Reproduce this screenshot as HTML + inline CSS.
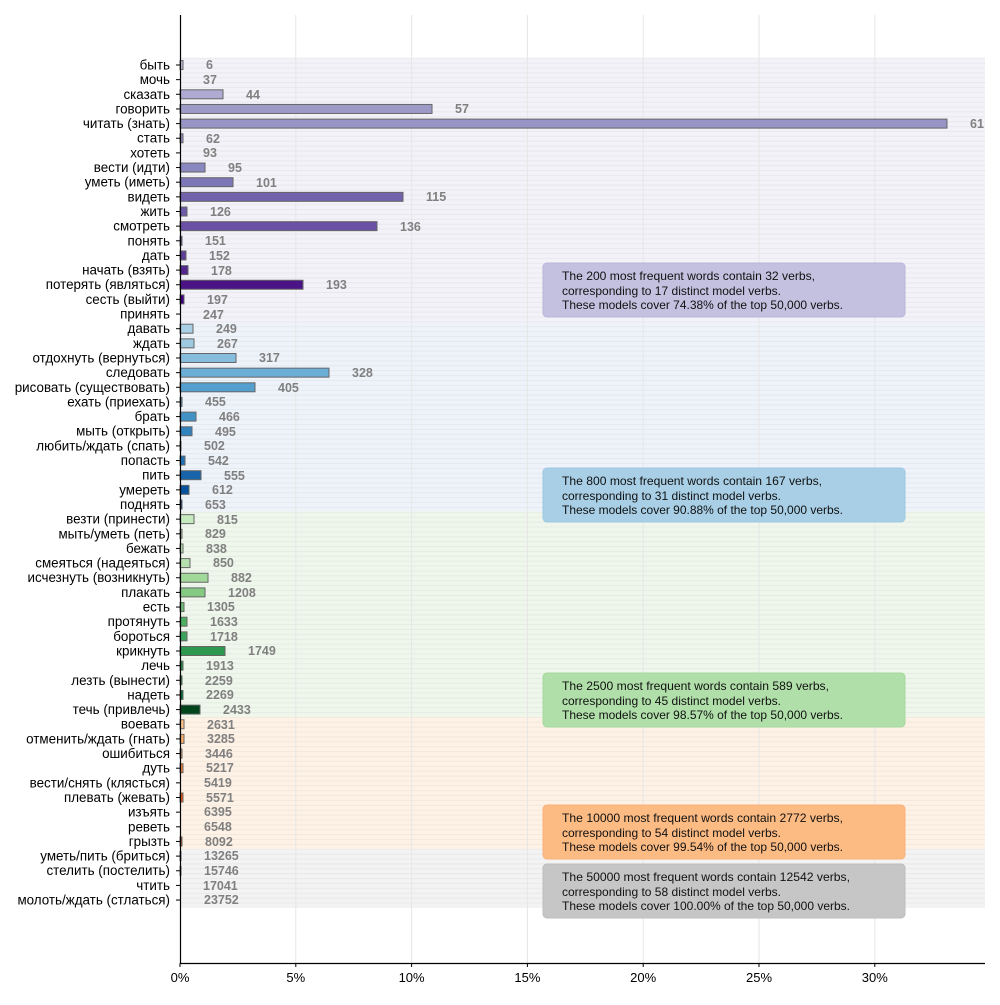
<!DOCTYPE html>
<html><head><meta charset="utf-8"><style>
html,body{margin:0;padding:0;background:#fff;}
svg text{font-family:"Liberation Sans","DejaVu Sans",sans-serif;}
.t{font-size:13.4px;fill:#000;text-anchor:end;}
.n{font-size:12.5px;font-weight:bold;fill:#808080;}
.b{font-size:12px;fill:#111;}
.x{font-size:13px;fill:#000;text-anchor:middle;}
rect.bar{stroke:#666;stroke-width:1;}
</style></head><body>
<svg width="1000" height="1000" xmlns="http://www.w3.org/2000/svg">
<defs>
<pattern id="hl" patternUnits="userSpaceOnUse" width="10" height="4.883" y="57.7">
<rect x="0" y="0" width="10" height="1" fill="rgba(0,0,0,0.045)"/>
</pattern>
</defs>
<rect x="180" y="57.7" width="805" height="264.7" fill="#f3f2f8"/>
<rect x="180" y="322.4" width="805" height="189.3" fill="#eef3fa"/>
<rect x="180" y="511.7" width="805" height="205.1" fill="#eff7ec"/>
<rect x="180" y="716.8" width="805" height="132.4" fill="#fef2e6"/>
<rect x="180" y="849.2" width="805" height="58.6" fill="#f3f3f3"/>
<rect x="180" y="57.7" width="805" height="850.1" fill="url(#hl)"/>
<g stroke="#e6e6e6" stroke-width="1">
<line x1="295.8" y1="15" x2="295.8" y2="963"/><line x1="411.6" y1="15" x2="411.6" y2="963"/><line x1="527.4" y1="15" x2="527.4" y2="963"/><line x1="643.2" y1="15" x2="643.2" y2="963"/><line x1="759" y1="15" x2="759" y2="963"/><line x1="874.8" y1="15" x2="874.8" y2="963"/>
</g>
<!-- bars -->
<rect class="bar" x="180" y="60.5" width="3" height="9" fill="#bcbddc"/>
<rect class="bar" x="180" y="89.8" width="43" height="9" fill="#aeaad2"/>
<rect class="bar" x="180" y="104.45" width="252" height="9" fill="#9e9ac8"/>
<rect class="bar" x="180" y="119.1" width="767" height="9" fill="#9894c5"/>
<rect class="bar" x="180" y="133.75" width="3" height="9" fill="#928ec2"/>
<rect class="bar" x="180" y="163.05" width="25" height="9" fill="#8a86bf"/>
<rect class="bar" x="180" y="177.7" width="53" height="9" fill="#7d77b8"/>
<rect class="bar" x="180" y="192.35" width="223" height="9" fill="#7262ab"/>
<rect class="bar" x="180" y="207" width="7" height="9" fill="#6e5aa7"/>
<rect class="bar" x="180" y="221.65" width="197" height="9" fill="#6a51a3"/>
<rect class="bar" x="180" y="236.3" width="2" height="9" fill="#63489d"/>
<rect class="bar" x="180" y="250.95" width="6" height="9" fill="#5d3f98"/>
<rect class="bar" x="180" y="265.6" width="8" height="9" fill="#54278f"/>
<rect class="bar" x="180" y="280.25" width="123" height="9" fill="#4a1486"/>
<rect class="bar" x="180" y="294.9" width="4" height="9" fill="#3f007d"/>
<rect class="bar" x="180" y="324.2" width="13" height="9" fill="#a9cfe5"/>
<rect class="bar" x="180" y="338.85" width="14" height="9" fill="#9ecae1"/>
<rect class="bar" x="180" y="353.5" width="56" height="9" fill="#86bcdc"/>
<rect class="bar" x="180" y="368.15" width="149" height="9" fill="#6baed6"/>
<rect class="bar" x="180" y="382.8" width="75" height="9" fill="#549fcd"/>
<rect class="bar" x="180" y="397.45" width="2" height="9" fill="#4a98c9"/>
<rect class="bar" x="180" y="412.1" width="16" height="9" fill="#4292c6"/>
<rect class="bar" x="180" y="426.75" width="12" height="9" fill="#3282bd"/>
<rect class="bar" x="180" y="441.4" width="1" height="9" fill="#2a7ab9"/>
<rect class="bar" x="180" y="456.05" width="5" height="9" fill="#2171b5"/>
<rect class="bar" x="180" y="470.7" width="21" height="9" fill="#1764ab"/>
<rect class="bar" x="180" y="485.35" width="9" height="9" fill="#08519c"/>
<rect class="bar" x="180" y="500" width="2" height="9" fill="#084594"/>
<rect class="bar" x="180" y="514.65" width="14" height="9" fill="#c7e9c0"/>
<rect class="bar" x="180" y="529.3" width="2" height="9" fill="#c0e6b9"/>
<rect class="bar" x="180" y="543.95" width="3" height="9" fill="#bae3b3"/>
<rect class="bar" x="180" y="558.6" width="10" height="9" fill="#b5e0ad"/>
<rect class="bar" x="180" y="573.25" width="28" height="9" fill="#a1d99b"/>
<rect class="bar" x="180" y="587.9" width="25" height="9" fill="#84ca83"/>
<rect class="bar" x="180" y="602.55" width="4" height="9" fill="#6bbc72"/>
<rect class="bar" x="180" y="617.2" width="7" height="9" fill="#4dad62"/>
<rect class="bar" x="180" y="631.85" width="7" height="9" fill="#3da35a"/>
<rect class="bar" x="180" y="646.5" width="45" height="9" fill="#2f984f"/>
<rect class="bar" x="180" y="661.15" width="3" height="9" fill="#238b45"/>
<rect class="bar" x="180" y="675.8" width="2" height="9" fill="#157f3b"/>
<rect class="bar" x="180" y="690.45" width="3" height="9" fill="#006d2c"/>
<rect class="bar" x="180" y="705.1" width="20" height="9" fill="#00441b"/>
<rect class="bar" x="180" y="719.75" width="4" height="9" fill="#fdc28c"/>
<rect class="bar" x="180" y="734.4" width="4" height="9" fill="#fdae6b"/>
<rect class="bar" x="180" y="749.05" width="2" height="9" fill="#fd9a51"/>
<rect class="bar" x="180" y="763.7" width="3" height="9" fill="#f3803a"/>
<rect class="bar" x="180" y="793" width="3" height="9" fill="#e6550d"/>
<rect class="bar" x="180" y="836.95" width="2" height="9" fill="#c44103"/>
<rect class="bar" x="180" y="851.6" width="1" height="9" fill="#bdbdbd"/>
<rect class="bar" x="180" y="866.25" width="1" height="9" fill="#969696"/>
<!-- number labels -->
<text class="n" x="206" y="69">6</text>
<text class="n" x="203" y="84">37</text>
<text class="n" x="246" y="99">44</text>
<text class="n" x="455" y="113">57</text>
<text class="n" x="970" y="128">61</text>
<text class="n" x="206" y="143">62</text>
<text class="n" x="203" y="157">93</text>
<text class="n" x="228" y="172">95</text>
<text class="n" x="256" y="187">101</text>
<text class="n" x="426" y="201">115</text>
<text class="n" x="210" y="216">126</text>
<text class="n" x="400" y="231">136</text>
<text class="n" x="205" y="245">151</text>
<text class="n" x="209" y="260">152</text>
<text class="n" x="211" y="275">178</text>
<text class="n" x="326" y="289">193</text>
<text class="n" x="207" y="304">197</text>
<text class="n" x="203" y="319">247</text>
<text class="n" x="216" y="333">249</text>
<text class="n" x="217" y="348">267</text>
<text class="n" x="259" y="362">317</text>
<text class="n" x="352" y="377">328</text>
<text class="n" x="278" y="392">405</text>
<text class="n" x="205" y="406">455</text>
<text class="n" x="219" y="421">466</text>
<text class="n" x="215" y="436">495</text>
<text class="n" x="204" y="450">502</text>
<text class="n" x="208" y="465">542</text>
<text class="n" x="224" y="480">555</text>
<text class="n" x="212" y="494">612</text>
<text class="n" x="205" y="509">653</text>
<text class="n" x="217" y="524">815</text>
<text class="n" x="205" y="538">829</text>
<text class="n" x="206" y="553">838</text>
<text class="n" x="213" y="567">850</text>
<text class="n" x="231" y="582">882</text>
<text class="n" x="228" y="597">1208</text>
<text class="n" x="207" y="611">1305</text>
<text class="n" x="210" y="626">1633</text>
<text class="n" x="210" y="641">1718</text>
<text class="n" x="248" y="655">1749</text>
<text class="n" x="206" y="670">1913</text>
<text class="n" x="205" y="685">2259</text>
<text class="n" x="206" y="699">2269</text>
<text class="n" x="223" y="714">2433</text>
<text class="n" x="207" y="729">2631</text>
<text class="n" x="207" y="743">3285</text>
<text class="n" x="205" y="758">3446</text>
<text class="n" x="206" y="772">5217</text>
<text class="n" x="204" y="787">5419</text>
<text class="n" x="206" y="802">5571</text>
<text class="n" x="204" y="816">6395</text>
<text class="n" x="204" y="831">6548</text>
<text class="n" x="205" y="846">8092</text>
<text class="n" x="204" y="860">13265</text>
<text class="n" x="204" y="875">15746</text>
<text class="n" x="203" y="890">17041</text>
<text class="n" x="204" y="904">23752</text>
<!-- tick labels -->
<g stroke="#000" stroke-width="1">
<line x1="176" y1="65" x2="180" y2="65"/><line x1="176" y1="79.65" x2="180" y2="79.65"/><line x1="176" y1="94.3" x2="180" y2="94.3"/><line x1="176" y1="108.95" x2="180" y2="108.95"/><line x1="176" y1="123.6" x2="180" y2="123.6"/><line x1="176" y1="138.25" x2="180" y2="138.25"/><line x1="176" y1="152.9" x2="180" y2="152.9"/><line x1="176" y1="167.55" x2="180" y2="167.55"/><line x1="176" y1="182.2" x2="180" y2="182.2"/><line x1="176" y1="196.85" x2="180" y2="196.85"/><line x1="176" y1="211.5" x2="180" y2="211.5"/><line x1="176" y1="226.15" x2="180" y2="226.15"/><line x1="176" y1="240.8" x2="180" y2="240.8"/><line x1="176" y1="255.45" x2="180" y2="255.45"/><line x1="176" y1="270.1" x2="180" y2="270.1"/><line x1="176" y1="284.75" x2="180" y2="284.75"/><line x1="176" y1="299.4" x2="180" y2="299.4"/><line x1="176" y1="314.05" x2="180" y2="314.05"/><line x1="176" y1="328.7" x2="180" y2="328.7"/><line x1="176" y1="343.35" x2="180" y2="343.35"/><line x1="176" y1="358" x2="180" y2="358"/><line x1="176" y1="372.65" x2="180" y2="372.65"/><line x1="176" y1="387.3" x2="180" y2="387.3"/><line x1="176" y1="401.95" x2="180" y2="401.95"/><line x1="176" y1="416.6" x2="180" y2="416.6"/><line x1="176" y1="431.25" x2="180" y2="431.25"/><line x1="176" y1="445.9" x2="180" y2="445.9"/><line x1="176" y1="460.55" x2="180" y2="460.55"/><line x1="176" y1="475.2" x2="180" y2="475.2"/><line x1="176" y1="489.85" x2="180" y2="489.85"/><line x1="176" y1="504.5" x2="180" y2="504.5"/><line x1="176" y1="519.15" x2="180" y2="519.15"/><line x1="176" y1="533.8" x2="180" y2="533.8"/><line x1="176" y1="548.45" x2="180" y2="548.45"/><line x1="176" y1="563.1" x2="180" y2="563.1"/><line x1="176" y1="577.75" x2="180" y2="577.75"/><line x1="176" y1="592.4" x2="180" y2="592.4"/><line x1="176" y1="607.05" x2="180" y2="607.05"/><line x1="176" y1="621.7" x2="180" y2="621.7"/><line x1="176" y1="636.35" x2="180" y2="636.35"/><line x1="176" y1="651" x2="180" y2="651"/><line x1="176" y1="665.65" x2="180" y2="665.65"/><line x1="176" y1="680.3" x2="180" y2="680.3"/><line x1="176" y1="694.95" x2="180" y2="694.95"/><line x1="176" y1="709.6" x2="180" y2="709.6"/><line x1="176" y1="724.25" x2="180" y2="724.25"/><line x1="176" y1="738.9" x2="180" y2="738.9"/><line x1="176" y1="753.55" x2="180" y2="753.55"/><line x1="176" y1="768.2" x2="180" y2="768.2"/><line x1="176" y1="782.85" x2="180" y2="782.85"/><line x1="176" y1="797.5" x2="180" y2="797.5"/><line x1="176" y1="812.15" x2="180" y2="812.15"/><line x1="176" y1="826.8" x2="180" y2="826.8"/><line x1="176" y1="841.45" x2="180" y2="841.45"/><line x1="176" y1="856.1" x2="180" y2="856.1"/><line x1="176" y1="870.75" x2="180" y2="870.75"/><line x1="176" y1="885.4" x2="180" y2="885.4"/><line x1="176" y1="900.05" x2="180" y2="900.05"/>
</g>
<text class="t" x="170" y="69.5">быть</text>
<text class="t" x="170" y="84.1">мочь</text>
<text class="t" x="170" y="98.8">сказать</text>
<text class="t" x="170" y="113.4">говорить</text>
<text class="t" x="170" y="128.1">читать (знать)</text>
<text class="t" x="170" y="142.7">стать</text>
<text class="t" x="170" y="157.4">хотеть</text>
<text class="t" x="170" y="172">вести (идти)</text>
<text class="t" x="170" y="186.7">уметь (иметь)</text>
<text class="t" x="170" y="201.3">видеть</text>
<text class="t" x="170" y="216">жить</text>
<text class="t" x="170" y="230.6">смотреть</text>
<text class="t" x="170" y="245.3">понять</text>
<text class="t" x="170" y="259.9">дать</text>
<text class="t" x="170" y="274.6">начать (взять)</text>
<text class="t" x="170" y="289.2">потерять (являться)</text>
<text class="t" x="170" y="303.9">сесть (выйти)</text>
<text class="t" x="170" y="318.5">принять</text>
<text class="t" x="170" y="333.2">давать</text>
<text class="t" x="170" y="347.8">ждать</text>
<text class="t" x="170" y="362.5">отдохнуть (вернуться)</text>
<text class="t" x="170" y="377.1">следовать</text>
<text class="t" x="170" y="391.8">рисовать (существовать)</text>
<text class="t" x="170" y="406.4">ехать (приехать)</text>
<text class="t" x="170" y="421.1">брать</text>
<text class="t" x="170" y="435.7">мыть (открыть)</text>
<text class="t" x="170" y="450.4">любить/ждать (спать)</text>
<text class="t" x="170" y="465">попасть</text>
<text class="t" x="170" y="479.7">пить</text>
<text class="t" x="170" y="494.3">умереть</text>
<text class="t" x="170" y="509">поднять</text>
<text class="t" x="170" y="523.6">везти (принести)</text>
<text class="t" x="170" y="538.3">мыть/уметь (петь)</text>
<text class="t" x="170" y="552.9">бежать</text>
<text class="t" x="170" y="567.6">смеяться (надеяться)</text>
<text class="t" x="170" y="582.2">исчезнуть (возникнуть)</text>
<text class="t" x="170" y="596.9">плакать</text>
<text class="t" x="170" y="611.5">есть</text>
<text class="t" x="170" y="626.2">протянуть</text>
<text class="t" x="170" y="640.8">бороться</text>
<text class="t" x="170" y="655.5">крикнуть</text>
<text class="t" x="170" y="670.1">лечь</text>
<text class="t" x="170" y="684.8">лезть (вынести)</text>
<text class="t" x="170" y="699.4">надеть</text>
<text class="t" x="170" y="714.1">течь (привлечь)</text>
<text class="t" x="170" y="728.7">воевать</text>
<text class="t" x="170" y="743.4">отменить/ждать (гнать)</text>
<text class="t" x="170" y="758">ошибиться</text>
<text class="t" x="170" y="772.7">дуть</text>
<text class="t" x="170" y="787.3">вести/снять (клясться)</text>
<text class="t" x="170" y="802">плевать (жевать)</text>
<text class="t" x="170" y="816.6">изъять</text>
<text class="t" x="170" y="831.3">реветь</text>
<text class="t" x="170" y="845.9">грызть</text>
<text class="t" x="170" y="860.6">уметь/пить (бриться)</text>
<text class="t" x="170" y="875.2">стелить (постелить)</text>
<text class="t" x="170" y="889.9">чтить</text>
<text class="t" x="170" y="904.5">молоть/ждать (стлаться)</text>
<!-- boxes -->
<rect x="543" y="263" width="362" height="54" rx="4" fill="#c3c1df" stroke="#b8b6d8" stroke-width="1"/>
<text class="b" x="562" y="280" textLength="253" lengthAdjust="spacingAndGlyphs">The 200 most frequent words contain 32 verbs,</text>
<text class="b" x="562" y="295" textLength="219" lengthAdjust="spacingAndGlyphs">corresponding to 17 distinct model verbs.</text>
<text class="b" x="562" y="309" textLength="281" lengthAdjust="spacingAndGlyphs">These models cover 74.38% of the top 50,000 verbs.</text>
<rect x="543" y="468" width="362" height="54" rx="4" fill="#a8cfe6" stroke="#9ec7e0" stroke-width="1"/>
<text class="b" x="562" y="485" textLength="260" lengthAdjust="spacingAndGlyphs">The 800 most frequent words contain 167 verbs,</text>
<text class="b" x="562" y="500" textLength="219" lengthAdjust="spacingAndGlyphs">corresponding to 31 distinct model verbs.</text>
<text class="b" x="562" y="514" textLength="281" lengthAdjust="spacingAndGlyphs">These models cover 90.88% of the top 50,000 verbs.</text>
<rect x="543" y="673" width="362" height="54" rx="4" fill="#b0dfa9" stroke="#a5d99e" stroke-width="1"/>
<text class="b" x="562" y="690" textLength="267" lengthAdjust="spacingAndGlyphs">The 2500 most frequent words contain 589 verbs,</text>
<text class="b" x="562" y="705" textLength="219" lengthAdjust="spacingAndGlyphs">corresponding to 45 distinct model verbs.</text>
<text class="b" x="562" y="719" textLength="281" lengthAdjust="spacingAndGlyphs">These models cover 98.57% of the top 50,000 verbs.</text>
<rect x="543" y="805" width="362" height="54" rx="4" fill="#fdbb84" stroke="#f9b07a" stroke-width="1"/>
<text class="b" x="562" y="822" textLength="281" lengthAdjust="spacingAndGlyphs">The 10000 most frequent words contain 2772 verbs,</text>
<text class="b" x="562" y="837" textLength="219" lengthAdjust="spacingAndGlyphs">corresponding to 54 distinct model verbs.</text>
<text class="b" x="562" y="851" textLength="281" lengthAdjust="spacingAndGlyphs">These models cover 99.54% of the top 50,000 verbs.</text>
<rect x="543" y="864" width="362" height="54" rx="4" fill="#c6c6c6" stroke="#bdbdbd" stroke-width="1"/>
<text class="b" x="562" y="881" textLength="288" lengthAdjust="spacingAndGlyphs">The 50000 most frequent words contain 12542 verbs,</text>
<text class="b" x="562" y="896" textLength="219" lengthAdjust="spacingAndGlyphs">corresponding to 58 distinct model verbs.</text>
<text class="b" x="562" y="910" textLength="288" lengthAdjust="spacingAndGlyphs">These models cover 100.00% of the top 50,000 verbs.</text>
<!-- axes -->
<line x1="180.5" y1="15" x2="180.5" y2="963" stroke="#000" stroke-width="1.2"/>
<line x1="180" y1="963.5" x2="985" y2="963.5" stroke="#000" stroke-width="1.2"/>
<g stroke="#000" stroke-width="1">
<line x1="180" y1="963" x2="180" y2="967"/><line x1="295.8" y1="963" x2="295.8" y2="967"/><line x1="411.6" y1="963" x2="411.6" y2="967"/><line x1="527.4" y1="963" x2="527.4" y2="967"/><line x1="643.2" y1="963" x2="643.2" y2="967"/><line x1="759" y1="963" x2="759" y2="967"/><line x1="874.8" y1="963" x2="874.8" y2="967"/>
</g>
<text class="x" x="180" y="982">0%</text>
<text class="x" x="295.8" y="982">5%</text>
<text class="x" x="411.6" y="982">10%</text>
<text class="x" x="527.4" y="982">15%</text>
<text class="x" x="643.2" y="982">20%</text>
<text class="x" x="759" y="982">25%</text>
<text class="x" x="874.8" y="982">30%</text>
</svg>
</body></html>
